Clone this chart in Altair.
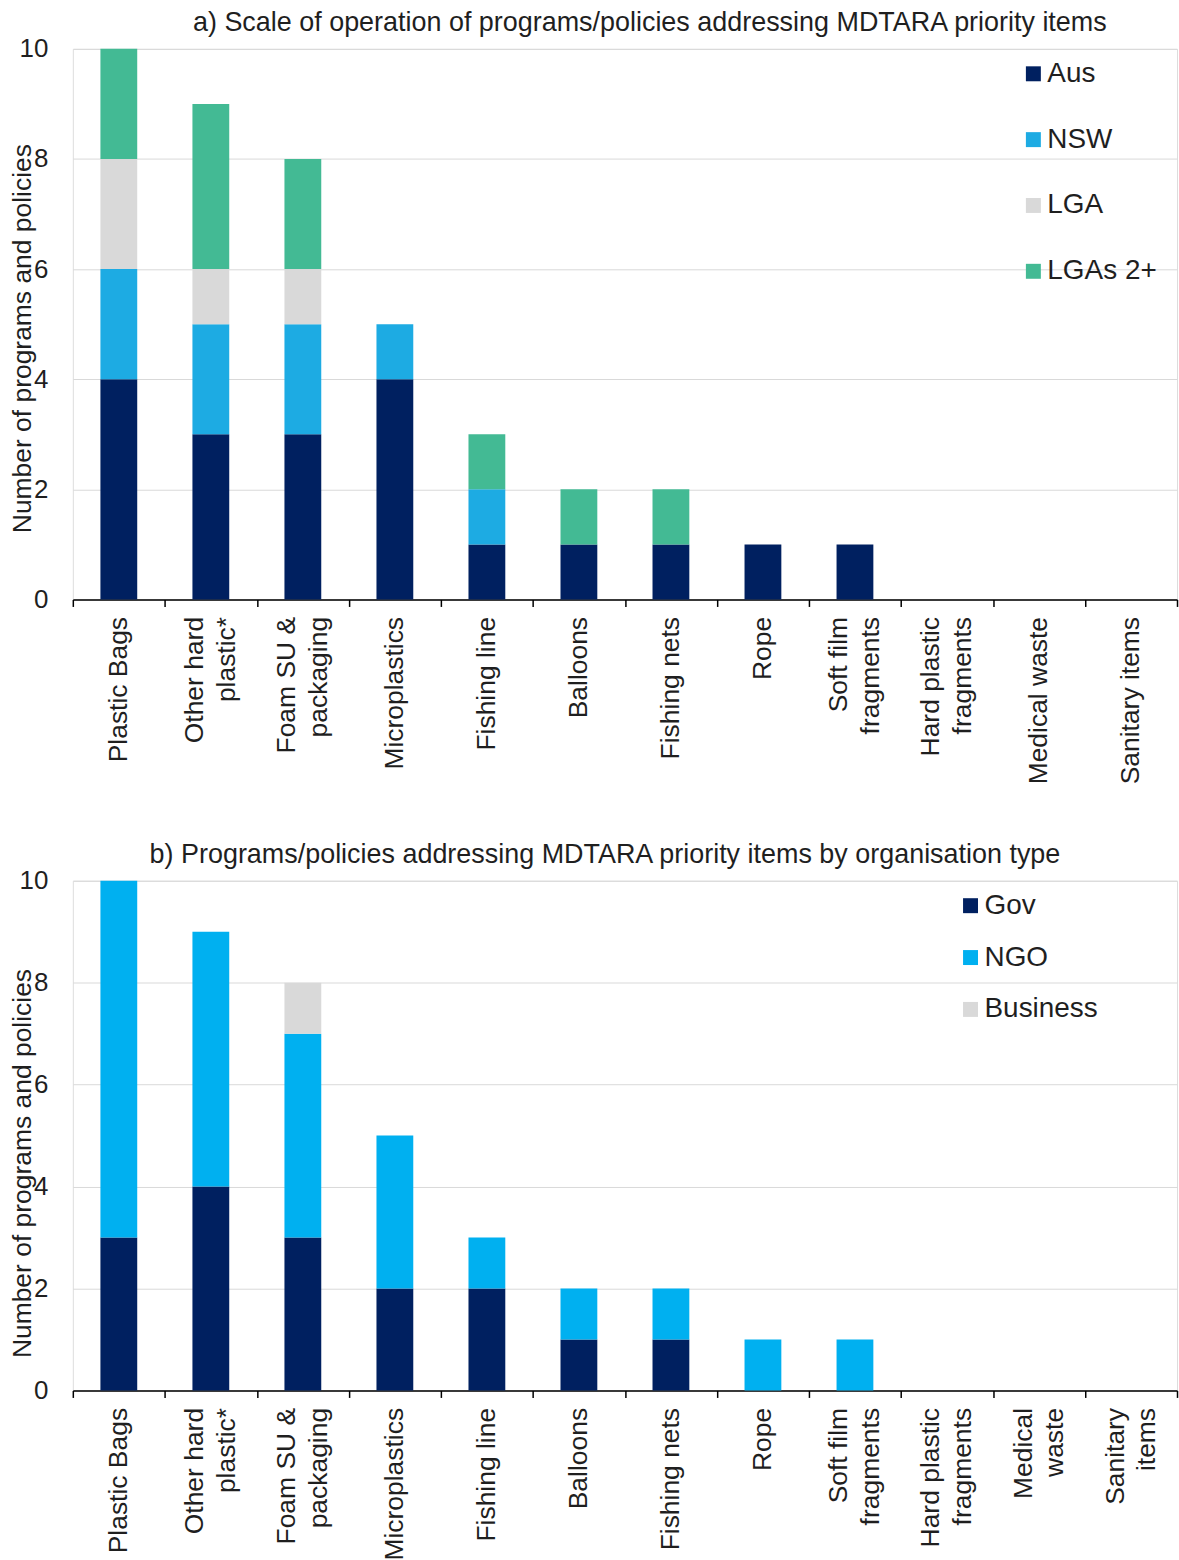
import altair as alt
import pandas as pd

FONT = "Liberation Sans"
TEXT = "#1f1f1f"

# ---- Panel a data ----
categories_a = ["Plastic Bags", "Other hard|plastic*", "Foam SU &|packaging", "Microplastics",
                "Fishing line", "Balloons", "Fishing nets", "Rope", "Soft film|fragments",
                "Hard plastic|fragments", "Medical waste", "Sanitary items"]
series_a = ["Aus", "NSW", "LGA", "LGAs 2+"]
aus = [4, 3, 3, 4, 1, 1, 1, 1, 1, 0, 0, 0]
nsw = [2, 2, 2, 1, 1, 0, 0, 0, 0, 0, 0, 0]
lga = [2, 1, 1, 0, 0, 0, 0, 0, 0, 0, 0, 0]
lgas2 = [2, 3, 2, 0, 1, 1, 1, 0, 0, 0, 0, 0]
colors_a = ["#002060", "#1DABE3", "#D9D9D9", "#43BA94"]

# ---- Panel b data ----
categories_b = ["Plastic Bags", "Other hard|plastic*", "Foam SU &|packaging", "Microplastics",
                "Fishing line", "Balloons", "Fishing nets", "Rope", "Soft film|fragments",
                "Hard plastic|fragments", "Medical|waste", "Sanitary|items"]
series_b = ["Gov", "NGO", "Business"]
gov = [3, 4, 3, 2, 2, 1, 1, 0, 0, 0, 0, 0]
ngo = [7, 5, 4, 3, 1, 1, 1, 1, 1, 0, 0, 0]
business = [0, 0, 1, 0, 0, 0, 0, 0, 0, 0, 0, 0]
colors_b = ["#002060", "#00B0F0", "#D9D9D9"]

title_a = "a) Scale of operation of programs/policies addressing MDTARA priority items"
title_b = "b) Programs/policies addressing MDTARA priority items by organisation type"
y_title = "Number of programs and policies"
y_ticks = [0, 2, 4, 6, 8, 10]


def make_df(cats, names, value_lists):
    rows = []
    for si, (name, vals) in enumerate(zip(names, value_lists)):
        for c, v in zip(cats, vals):
            if v > 0:
                rows.append({"item": c, "series": name, "count": v, "order": si})
    return pd.DataFrame(rows)


def panel(df, cats, names, colors, title, dx, toff, height, legend_x, legend_y, rowpad, ytitle_y):
    return alt.Chart(
        df,
        title=alt.TitleParams(title, fontSize=27, font=FONT, color=TEXT, fontWeight="normal",
                              anchor="middle", dx=dx, offset=toff),
    ).mark_bar(width=alt.RelativeBandSize(0.4)).encode(
        x=alt.X("item:N",
                scale=alt.Scale(domain=cats, paddingInner=0, paddingOuter=0),
                axis=alt.Axis(title=None, labelAngle=270, labelAlign="right", labelBaseline="middle",
                              labelExpr="split(datum.label, '|')", labelFontSize=26.5, labelLineHeight=32,
                              labelOffset={"condition": {"test": "indexof(datum.label, '|') >= 0",
                                                         "value": -16}, "value": 0},
                              labelPadding=10, tickSize=7, tickBand="extent", domainColor="#000000",
                              tickColor="#000000", domainWidth=1.5, tickWidth=1.5, labelColor=TEXT,
                              labelFont=FONT, labelOverlap=False, labelLimit=400, grid=False)),
        y=alt.Y("count:Q", stack="zero",
                scale=alt.Scale(domain=[0, 10], nice=False),
                axis=alt.Axis(title=y_title, values=y_ticks, domain=False, ticks=False,
                              labelPadding=25, titlePadding=-17, titleY=ytitle_y,
                              gridColor="#D9D9D9", gridWidth=1,
                              labelFontSize=26, titleFontSize=26.5, labelFont=FONT, titleFont=FONT,
                              labelColor=TEXT, titleColor=TEXT, titleFontWeight="normal")),
        color=alt.Color("series:N", scale=alt.Scale(domain=names, range=colors),
                        legend=alt.Legend(title=None, orient="none", legendX=legend_x, legendY=legend_y,
                                          symbolType="square", symbolSize=225, symbolStrokeWidth=0,
                                          labelFontSize=28, labelFont=FONT, labelColor=TEXT,
                                          rowPadding=rowpad, padding=0, labelOffset=0)),
        order=alt.Order("order:Q", sort="ascending"),
    ).properties(width=1107, height=height)


df_a = make_df(categories_a, series_a, [aus, nsw, lga, lgas2])
df_b = make_df(categories_b, series_b, [gov, ngo, business])

pa = panel(df_a, categories_a, series_a, colors_a, title_a, 25, -1, 552, 949, 11, 38, 290)
pb = panel(df_b, categories_b, series_b, colors_b, title_b, -20, -1, 511, 886, 11, 24, 283)

chart = alt.vconcat(pa, pb, spacing=55).resolve_scale(color="independent").properties(
    padding={"left": 8, "top": 6, "right": 0, "bottom": 0}
).configure_view(stroke=None).configure(background="white")

chart.save("out.html", embed_options={"renderer": "svg", "actions": False})
